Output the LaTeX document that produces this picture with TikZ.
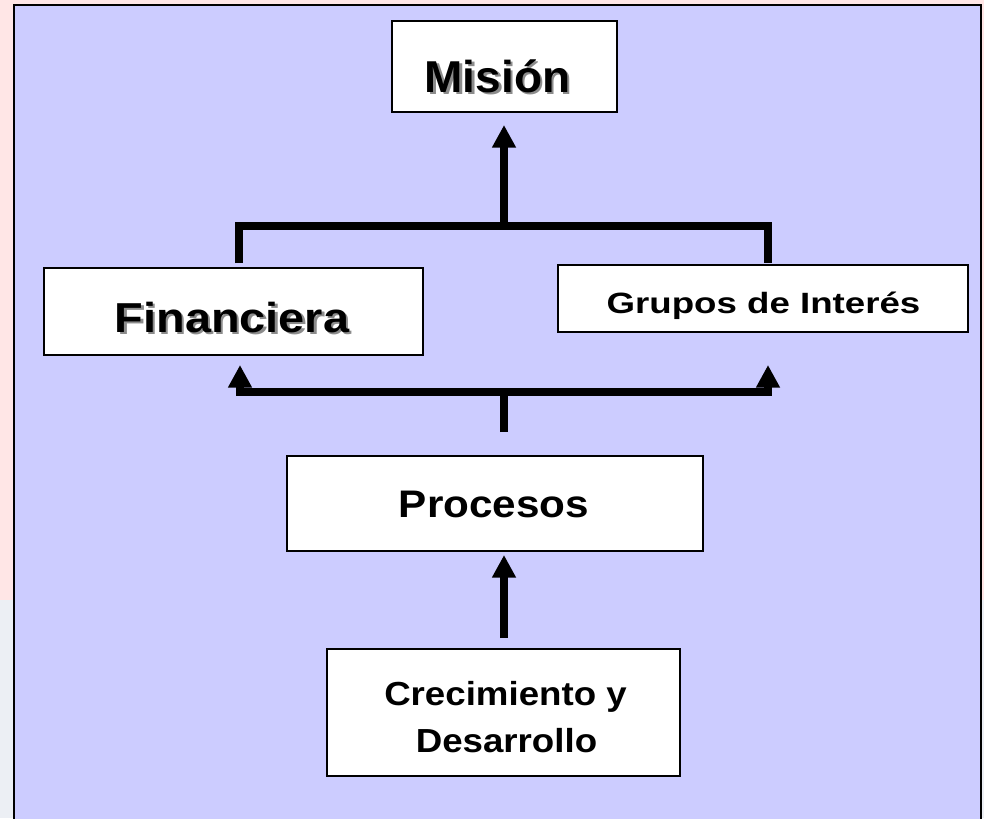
\documentclass[tikz,border=0pt]{standalone}
\usepackage{fontspec}
\setmainfont{Liberation Sans}
\usetikzlibrary{arrows.meta}
\definecolor{lav}{RGB}{204,204,255}
\definecolor{pinkbg}{RGB}{255,230,230}
\definecolor{greybg}{RGB}{236,239,244}
\definecolor{shade}{RGB}{140,140,140}
\begin{document}
\begin{tikzpicture}[x=0.75pt,y=-0.75pt,
  box/.style={draw=black, line width=1.5pt, fill=white, inner sep=0pt},
  lbl/.style={anchor=base, inner sep=0pt, font=\bfseries},
  shd/.style={lbl, text=shade},
  conn/.style={line width=6pt, line join=miter},
  arr/.style={conn, -{Triangle[width=17pt,length=17pt]}}]
\useasboundingbox (0,0) rectangle (984,818);
\fill[pinkbg] (0,0) rectangle (984,600);
\fill[greybg] (0,600) rectangle (984,818);
\draw[line width=2.2pt, fill=lav] (14,5) rectangle (981,830);

% boxes
\node[box, minimum width=168.75pt, minimum height=68.25pt] (mis) at (504.5,66.5) {};
\node[box, minimum width=284.25pt, minimum height=65.25pt] (fin) at (233.5,311.5) {};
\node[box, minimum width=307.5pt, minimum height=50.25pt] (gru) at (763,298.5) {};
\node[box, minimum width=312pt, minimum height=71.25pt] (pro) at (495,503.5) {};
\node[box, minimum width=264.75pt, minimum height=95.25pt] (cre) at (503.5,712.5) {};

% labels
\node[shd] (misS) at (500,94.5) {\fontsize{33.5pt}{40pt}\selectfont\scalebox{1.03}[1]{Misión}};
\node[lbl] (misT) at (497.5,92) {\fontsize{33.5pt}{40pt}\selectfont\scalebox{1.03}[1]{Misión}};
\node[shd] (finS) at (234.5,334.5) {\fontsize{31.4pt}{38pt}\selectfont\scalebox{1.12}[1]{Financiera}};
\node[lbl] (finT) at (232,332) {\fontsize{31.4pt}{38pt}\selectfont\scalebox{1.12}[1]{Financiera}};
\node[lbl] (gruT) at (763.5,313) {\fontsize{22pt}{26pt}\selectfont\scalebox{1.25}[1]{Grupos de Interés}};
\node[lbl] (proT) at (494,517) {\fontsize{28.8pt}{34pt}\selectfont\scalebox{1.1}[1]{Procesos}};
\node[lbl] (creT1) at (505.5,705) {\fontsize{25pt}{30pt}\selectfont\scalebox{1.1}[1]{Crecimiento y}};
\node[lbl] (creT2) at (506.5,752) {\fontsize{25pt}{30pt}\selectfont\scalebox{1.1}[1]{Desarrollo}};

% connector coordinates
\coordinate (fstub) at (239,263);
\coordinate (tl) at (239,226);
\coordinate (tm) at (504,226);
\coordinate (tr) at (768,226);
\coordinate (gstub) at (768,263);
\coordinate (mtip) at (504,125);
\coordinate (pstub) at (504,432);
\coordinate (bm) at (504,392);
\coordinate (ftip) at (240,365);
\coordinate (gtip) at (768,365);
\coordinate (cstub) at (504,638);
\coordinate (ptip) at (504,555);

\draw[conn] (fstub) -- (tl) -- (tr) -- (gstub);
\draw[arr] (tm) -- (mtip);
\draw[arr] (pstub) -- (bm) -| (ftip);
\draw[arr] (bm) -| (gtip);
\draw[arr] (cstub) -- (ptip);
\end{tikzpicture}
\end{document}
